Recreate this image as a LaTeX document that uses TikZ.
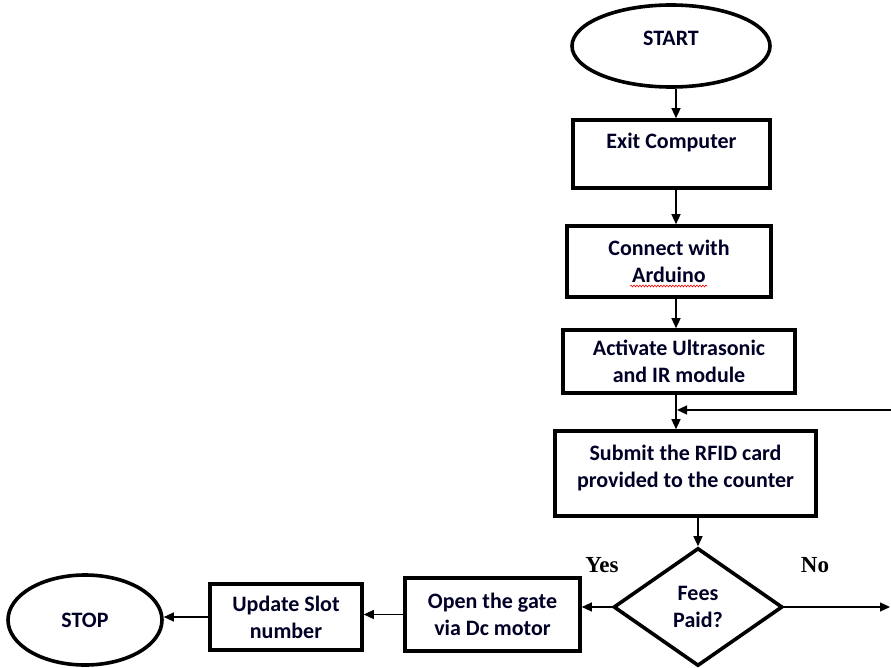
\documentclass[tikz,border=0pt]{standalone}
\usepackage{fontspec}
\setmainfont{Carlito}
\newfontfamily\yesnofont{Liberation Serif}
\usetikzlibrary{shapes.geometric,arrows.meta,decorations.pathmorphing}
\begin{document}
\begin{tikzpicture}[x=1pt,y=-1pt,
  txt/.style={font=\bfseries\fontsize{22}{27}\selectfont, align=center, text=black!85!blue},
  procbox/.style={txt, draw, line width=3.6pt, rectangle, inner sep=0pt},
  term/.style={txt, draw, line width=3.6pt, ellipse, inner sep=0pt},
  decide/.style={txt, draw, line width=3.6pt, diamond, inner sep=0pt},
  arr/.style={-{Triangle[length=10pt,width=9pt]}, line width=1.3pt},
  yn/.style={font=\yesnofont\bfseries\fontsize{23}{26}\selectfont}]
\useasboundingbox (0,0) rectangle (891,668);
\node[term, minimum width=198pt, minimum height=82pt] (start) at (671,46) {START\\[-11pt]\mbox{}};
\node[procbox, minimum width=197pt, minimum height=68pt] (exit) at (671.5,154) {Exit Computer\\ \mbox{}};
\node[procbox, minimum width=204pt, minimum height=71pt] (conn) at (669,261.5) {Connect with\\Arduino};
\node[procbox, minimum width=232pt, minimum height=63pt] (act) at (679,361.5) {Activate Ultrasonic\\and IR module};
\node[procbox, minimum width=261pt, minimum height=85pt] (sub) at (685.5,473.5) {Submit the RFID card\\provided to the counter\\[-12pt]};
\node[decide, minimum width=169pt, minimum height=118pt] (dia) at (698,607) {Fees\\Paid?};
\node[procbox, minimum width=175pt, minimum height=73pt] (open) at (492.5,614.5) {Open the gate\\via Dc motor};
\node[procbox, minimum width=152pt, minimum height=66pt] (upd) at (286,617) {Update Slot\\number};
\node[term, minimum width=154pt, minimum height=90pt] (stop) at (85,620) {STOP};
\node[yn] (yes) at (602,565) {Yes};
\node[yn] (no) at (815,565) {No};
\coordinate (spine) at (676,0);
\coordinate (fbin) at (891,410);
\coordinate (noend) at (890,607);
\draw[arr] (start.south -| spine) -- (exit.north -| spine);
\draw[arr] (exit.south -| spine) -- (conn.north -| spine);
\draw[arr] (conn.south -| spine) -- (act.north -| spine);
\draw[arr] (act.south -| spine) -- (sub.north -| spine);
\draw[arr] (fbin) -- ([xshift=1pt]spine |- fbin);
\draw[arr] (dia.north |- sub.south) -- (dia.north);
\draw[arr] (dia.east) -- (noend);
\draw[arr] (dia.west) -- (open.east |- dia.west);
\draw[arr] (open.west) -- (upd.east |- open.west);
\draw[arr] (upd.west) -- (stop.east |- upd.west);
\draw[red, line width=0.6pt, decorate, decoration={snake, amplitude=0.9pt, segment length=3pt}]
  ([xshift=-39pt,yshift=-24.5pt]conn.center) -- ([xshift=38pt,yshift=-24.5pt]conn.center);
\end{tikzpicture}
\end{document}
